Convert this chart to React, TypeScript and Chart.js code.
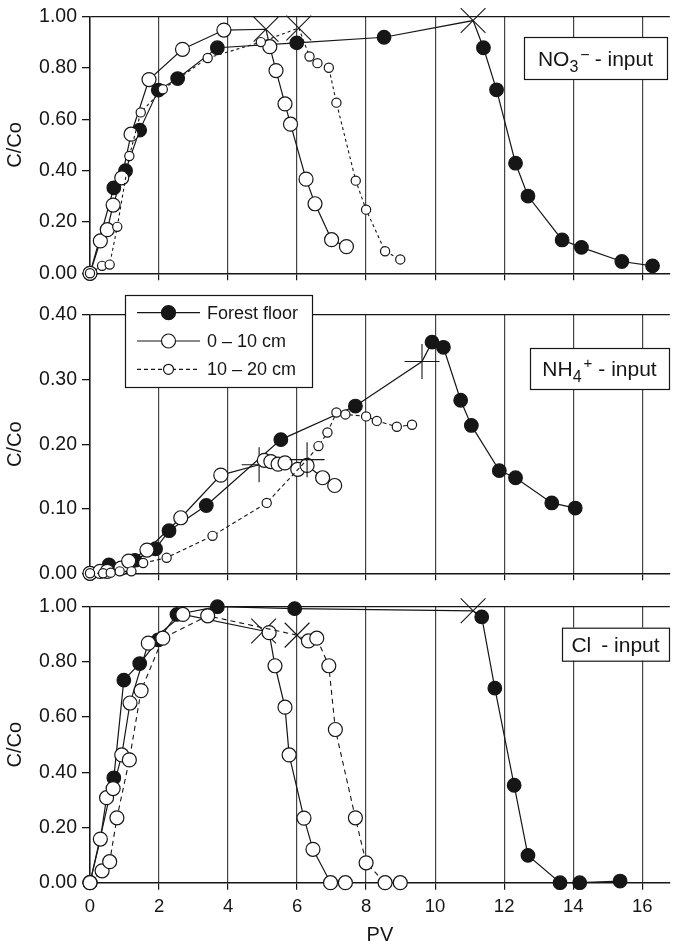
import React, { useEffect, useRef } from 'react';
import { Chart, registerables } from 'chart.js';

Chart.register(...registerables);

const FONT = "'Liberation Sans', Arial, Helvetica, sans-serif";
const INK = '#161616';
const GRID = '#444444';

// shared x axis (pore volumes)
const PV_MIN = 0;
const PV_MAX = 16.8;
const PV_STEP = 2;
const X_TITLE = 'PV';
const Y_TITLE = 'C/Co';
const SERIES_LABELS = ['Forest floor', '0 \u2013 10 cm', '10 \u2013 20 cm'];

// ---- NO3- input panel ----
const no3ForestPV = [0, 0.69, 1.03, 1.44, 1.98, 2.54, 3.69, 5.99, 8.52, 11.1, 11.4, 11.78, 12.33, 12.69, 13.68, 14.24, 15.41, 16.3];
const no3ForestC = [0, 0.333, 0.4, 0.558, 0.714, 0.759, 0.879, 0.898, 0.92, 0.985, 0.879, 0.715, 0.429, 0.301, 0.13, 0.101, 0.046, 0.029];
const no3ForestMark = 9;
const no3TopPV = [0, 0.3, 0.5, 0.67, 0.92, 1.19, 1.71, 2.68, 3.88, 5.1, 5.21, 5.39, 5.65, 5.81, 6.26, 6.52, 7.0, 7.43];
const no3TopC = [0, 0.126, 0.17, 0.266, 0.372, 0.542, 0.755, 0.873, 0.948, 0.951, 0.883, 0.79, 0.66, 0.581, 0.367, 0.271, 0.131, 0.104];
const no3TopMark = 9;
const no3DeepPV = [0, 0.35, 0.57, 0.79, 1.14, 1.47, 2.11, 3.41, 4.95, 6.05, 6.36, 6.59, 6.92, 7.14, 7.7, 8.0, 8.55, 8.99];
const no3DeepC = [0, 0.029, 0.034, 0.181, 0.457, 0.627, 0.717, 0.839, 0.901, 0.956, 0.845, 0.819, 0.801, 0.665, 0.361, 0.248, 0.086, 0.054];
const no3DeepMark = 9;

// ---- NH4+ input panel ----
const nh4ForestPV = [0, 0.55, 1.3, 1.9, 2.29, 3.37, 5.53, 7.69, 9.62, 9.91, 10.24, 10.74, 11.05, 11.86, 12.33, 13.38, 14.06];
const nh4ForestC = [0, 0.013, 0.02, 0.038, 0.066, 0.105, 0.207, 0.259, 0.328, 0.358, 0.35, 0.268, 0.229, 0.159, 0.148, 0.109, 0.101];
const nh4ForestMark = 8;
const nh4TopPV = [0, 0.29, 0.5, 0.9, 1.12, 1.65, 2.63, 3.79, 4.9, 5.05, 5.24, 5.45, 5.65, 6.02, 6.29, 6.74, 7.09];
const nh4TopC = [0, 0.003, 0.003, 0.008, 0.019, 0.036, 0.086, 0.152, 0.168, 0.175, 0.173, 0.169, 0.171, 0.161, 0.167, 0.148, 0.136];
const nh4TopMark = 8;
const nh4DeepPV = [0, 0.38, 0.6, 0.86, 1.2, 1.54, 2.22, 3.55, 5.12, 6.29, 6.62, 6.88, 7.14, 7.4, 8.0, 8.31, 8.89, 9.33];
const nh4DeepC = [0, 0, 0.001, 0.003, 0.003, 0.016, 0.024, 0.058, 0.109, 0.176, 0.197, 0.218, 0.249, 0.246, 0.243, 0.236, 0.227, 0.23];
const nh4DeepMark = 9;

// ---- Cl input panel ----
const clForestPV = [0, 0.69, 0.98, 1.44, 1.98, 2.52, 3.69, 5.93, 11.1, 11.35, 11.73, 12.29, 12.69, 13.62, 14.19, 15.36];
const clForestC = [0, 0.38, 0.734, 0.794, 0.88, 0.972, 1.0, 0.993, 0.985, 0.963, 0.705, 0.353, 0.099, 0, 0, 0.006];
const clForestMark = 8;
const clTopPV = [0, 0.3, 0.48, 0.67, 0.92, 1.16, 1.69, 2.69, 5.03, 5.19, 5.36, 5.65, 5.77, 6.2, 6.46, 6.97, 7.4];
const clTopC = [0, 0.158, 0.308, 0.341, 0.463, 0.651, 0.868, 0.972, 0.912, 0.906, 0.786, 0.636, 0.463, 0.234, 0.121, 0, 0];
const clTopMark = 8;
const clDeepPV = [0, 0.35, 0.57, 0.78, 1.14, 1.48, 2.11, 3.41, 6.0, 6.33, 6.57, 6.92, 7.11, 7.69, 8.0, 8.55, 8.99];
const clDeepC = [0, 0.043, 0.076, 0.235, 0.445, 0.696, 0.886, 0.967, 0.897, 0.876, 0.886, 0.786, 0.555, 0.235, 0.072, 0, 0];
const clDeepMark = 8;

// panel label texts
const NO3_LABEL = [
  { text: 'NO', size: 21 },
  { text: '3', size: 16, dy: 6.5 },
  { text: '\u2212', size: 16, dy: -6, pre: 2 },
  { text: '- input', size: 21, pre: 5 },
];
const NH4_LABEL = [
  { text: 'NH', size: 21 },
  { text: '4', size: 16, dy: 6 },
  { text: '+', size: 15, dy: -8, pre: 2 },
  { text: '- input', size: 21, pre: 6 },
];
const CL_LABEL = [
  { text: 'Cl', size: 21 },
  { text: '- input', size: 21, pre: 10 },
];

type Style = { fill: string; r: number; dash: number[]; lw: number; order: number };

function makeDataset(label: string, pv: number[], c: number[], mark: number, markStyle: string, st: Style) {
  const data = pv.map((x, i) => ({ x, y: c[i] }));
  return {
    label,
    data,
    showLine: true,
    tension: 0,
    borderColor: INK,
    borderWidth: st.lw,
    borderDash: st.dash,
    pointStyle: data.map((_, i) => (i === mark ? markStyle : 'circle')),
    pointRadius: data.map((_, i) => (i === mark ? 17.5 : st.r)),
    pointBackgroundColor: data.map((_, i) => (i === mark ? 'rgba(0,0,0,0)' : st.fill)),
    pointBorderColor: INK,
    pointBorderWidth: data.map((_, i) => (i === mark ? 1.1 : 1.2)),
    order: st.order,
    clip: false,
  };
}

function drawChemLabel(ctx: CanvasRenderingContext2D, box: { x: number; y: number; w: number; h: number }, parts: any[]) {
  ctx.save();
  ctx.fillStyle = '#ffffff';
  ctx.fillRect(box.x, box.y, box.w, box.h);
  ctx.strokeStyle = INK;
  ctx.lineWidth = 1.2;
  ctx.strokeRect(box.x + 0.5, box.y + 0.5, box.w, box.h);
  let total = 0;
  const widths = parts.map((pt) => {
    ctx.font = `${pt.size}px ${FONT}`;
    const w = ctx.measureText(pt.text).width + (pt.pre || 0);
    total += w;
    return w;
  });
  let x = box.x + box.w / 2 - total / 2;
  const base = box.y + box.h / 2 + 7.5;
  ctx.fillStyle = INK;
  ctx.textAlign = 'left';
  ctx.textBaseline = 'alphabetic';
  parts.forEach((pt, i) => {
    ctx.font = `${pt.size}px ${FONT}`;
    ctx.fillText(pt.text, x + (pt.pre || 0), base + (pt.dy || 0));
    x += widths[i];
  });
  ctx.restore();
}

function drawLegend(ctx: CanvasRenderingContext2D) {
  const box = { x: 125, y: 5, w: 187, h: 92 };
  ctx.save();
  ctx.fillStyle = '#ffffff';
  ctx.fillRect(box.x, box.y, box.w, box.h);
  ctx.strokeStyle = INK;
  ctx.lineWidth = 1.2;
  ctx.strokeRect(box.x + 0.5, box.y + 0.5, box.w, box.h);
  const rows = [
    { y: 22.7, fill: INK, r: 7, dash: [] as number[] },
    { y: 51, fill: '#ffffff', r: 7, dash: [] as number[] },
    { y: 79.3, fill: '#ffffff', r: 5, dash: [4, 3] },
  ];
  rows.forEach((row, i) => {
    ctx.strokeStyle = INK;
    ctx.lineWidth = 1.2;
    ctx.setLineDash(row.dash);
    ctx.beginPath();
    ctx.moveTo(137, row.y);
    ctx.lineTo(200, row.y);
    ctx.stroke();
    ctx.setLineDash([]);
    ctx.beginPath();
    ctx.arc(168.5, row.y, row.r, 0, Math.PI * 2);
    ctx.fillStyle = row.fill;
    ctx.fill();
    ctx.stroke();
    ctx.fillStyle = INK;
    ctx.font = `18px ${FONT}`;
    ctx.textAlign = 'left';
    ctx.textBaseline = 'middle';
    ctx.fillText(SERIES_LABELS[i], 207, row.y + 1);
  });
  ctx.restore();
}

type Panel = {
  key: string;
  canvasTop: number;
  canvasH: number;
  padTop: number;
  xScaleH: number;
  showX: boolean;
  yMax: number;
  yStep: number;
  datasets: any[];
  label: any[];
  labelBox: { x: number; y: number; w: number; h: number };
  legend: boolean;
};

const forestStyle: Style = { fill: INK, r: 6.8, dash: [], lw: 1.2, order: 3 };
const topStyle: Style = { fill: '#ffffff', r: 7, dash: [], lw: 1.2, order: 2 };
const deepSmall: Style = { fill: '#ffffff', r: 4.6, dash: [4, 3], lw: 1.1, order: 1 };
const deepLarge: Style = { fill: '#ffffff', r: 7, dash: [5, 4], lw: 1.1, order: 1 };

const PANELS: Panel[] = [
  {
    key: 'no3',
    canvasTop: 0,
    canvasH: 290,
    padTop: 16,
    xScaleH: 7,
    showX: false,
    yMax: 1,
    yStep: 0.2,
    datasets: [
      makeDataset(SERIES_LABELS[0], no3ForestPV, no3ForestC, no3ForestMark, 'crossRot', forestStyle),
      makeDataset(SERIES_LABELS[1], no3TopPV, no3TopC, no3TopMark, 'crossRot', topStyle),
      makeDataset(SERIES_LABELS[2], no3DeepPV, no3DeepC, no3DeepMark, 'crossRot', { ...deepSmall, dash: [3, 3] }),
    ],
    label: NO3_LABEL,
    labelBox: { x: 524, y: 37, w: 143, h: 42 },
    legend: false,
  },
  {
    key: 'nh4',
    canvasTop: 290,
    canvasH: 300,
    padTop: 25,
    xScaleH: 14,
    showX: false,
    yMax: 0.4,
    yStep: 0.1,
    datasets: [
      makeDataset(SERIES_LABELS[0], nh4ForestPV, nh4ForestC, nh4ForestMark, 'cross', forestStyle),
      makeDataset(SERIES_LABELS[1], nh4TopPV, nh4TopC, nh4TopMark, 'cross', topStyle),
      makeDataset(SERIES_LABELS[2], nh4DeepPV, nh4DeepC, nh4DeepMark, 'cross', deepSmall),
    ],
    label: NH4_LABEL,
    labelBox: { x: 530, y: 58, w: 139, h: 41 },
    legend: true,
  },
  {
    key: 'cl',
    canvasTop: 590,
    canvasH: 355,
    padTop: 15.7,
    xScaleH: 62.3,
    showX: true,
    yMax: 1,
    yStep: 0.2,
    datasets: [
      makeDataset(SERIES_LABELS[0], clForestPV, clForestC, clForestMark, 'crossRot', forestStyle),
      makeDataset(SERIES_LABELS[1], clTopPV, clTopC, clTopMark, 'crossRot', topStyle),
      makeDataset(SERIES_LABELS[2], clDeepPV, clDeepC, clDeepMark, 'crossRot', deepLarge),
    ],
    label: CL_LABEL,
    labelBox: { x: 562, y: 37.7, w: 107, h: 33 },
    legend: false,
  },
];

function buildConfig(p: Panel): any {
  return {
    type: 'scatter',
    data: { datasets: p.datasets },
    options: {
      responsive: false,
      animation: false,
      events: [],
      layout: { padding: { top: p.padTop, right: 0, bottom: 0, left: 0 } },
      plugins: { legend: { display: false }, tooltip: { enabled: false } },
      scales: {
        x: {
          type: 'linear',
          min: PV_MIN,
          max: PV_MAX,
          ticks: {
            display: p.showX,
            stepSize: PV_STEP,
            includeBounds: false,
            padding: 6,
            color: INK,
            maxRotation: 0,
            autoSkip: false,
            font: { size: 18.5, family: FONT },
          },
          grid: { color: GRID, lineWidth: 1.2, tickColor: INK, tickLength: 7 },
          border: { color: INK, width: 1.5 },
          title: {
            display: p.showX,
            text: X_TITLE,
            color: INK,
            font: { size: 20, family: FONT, lineHeight: 1 },
            padding: { top: 0, bottom: 0 },
          },
          afterFit: (s: any) => {
            s.height = p.xScaleH;
          },
        },
        y: {
          type: 'linear',
          min: 0,
          max: p.yMax,
          ticks: {
            stepSize: p.yStep,
            padding: 5,
            color: INK,
            font: { size: 19.5, family: FONT },
            callback: (v: any) => Number(v).toFixed(2),
          },
          grid: {
            color: (c: any) => (c.tick && Math.abs(c.tick.value - p.yMax) < 1e-9 ? INK : 'rgba(0,0,0,0)'),
            lineWidth: 1.3,
            tickColor: INK,
            tickLength: 8,
          },
          border: { color: INK, width: 1.5 },
          title: {
            display: true,
            text: Y_TITLE,
            color: INK,
            font: { size: 20, family: FONT },
            padding: { top: 3, bottom: 0 },
          },
          afterFit: (s: any) => {
            s.width = 90;
          },
        },
      },
    },
    plugins: [
      {
        id: 'panelLabel_' + p.key,
        afterDraw(chart: any) {
          const ctx = chart.ctx as CanvasRenderingContext2D;
          drawChemLabel(ctx, p.labelBox, p.label);
          if (p.legend) drawLegend(ctx);
        },
      },
    ],
  };
}

function PanelChart({ panel }: { panel: Panel }) {
  const ref = useRef<HTMLCanvasElement | null>(null);
  useEffect(() => {
    if (!ref.current) return;
    const chart = new Chart(ref.current, buildConfig(panel));
    return () => chart.destroy();
  }, [panel]);
  return (
    <canvas
      ref={ref}
      width={678}
      height={panel.canvasH}
      style={{ position: 'absolute', left: 0, top: panel.canvasTop, display: 'block', width: 678, height: panel.canvasH }}
    />
  );
}

export default function App() {
  return (
    <div style={{ position: 'absolute', left: 0, top: 0, width: 678, height: 945, background: '#ffffff', overflow: 'hidden' }}>
      {PANELS.map((p) => (
        <PanelChart key={p.key} panel={p} />
      ))}
    </div>
  );
}
